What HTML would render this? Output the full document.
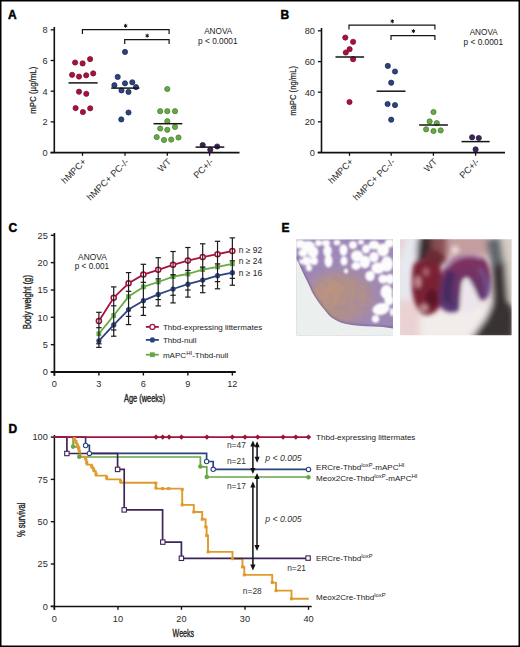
<!DOCTYPE html>
<html><head><meta charset="utf-8">
<style>
html,body{margin:0;padding:0;background:#fff;}
svg{display:block;font-family:"Liberation Sans",sans-serif;}
</style></head>
<body>
<svg width="520" height="647" viewBox="0 0 520 647">
<defs>
 <filter id="bl0" x="-20%" y="-20%" width="140%" height="140%"><feGaussianBlur stdDeviation="0.8"/></filter>
 <filter id="bl1" x="-50%" y="-50%" width="200%" height="200%"><feGaussianBlur stdDeviation="6"/></filter>
 <filter id="bl2" x="-50%" y="-50%" width="200%" height="200%"><feGaussianBlur stdDeviation="3"/></filter>
 <filter id="bl3" x="-50%" y="-50%" width="200%" height="200%"><feGaussianBlur stdDeviation="2.3"/></filter>
 <linearGradient id="lobeg" x1="0" y1="0" x2="0" y2="1"><stop offset="0" stop-color="#86325c"/><stop offset="0.5" stop-color="#6a3468"/><stop offset="1" stop-color="#553a78"/></linearGradient>
 <filter id="nz" x="0" y="0" width="100%" height="100%"><feTurbulence type="fractalNoise" baseFrequency="0.18" numOctaves="2" seed="3"/><feColorMatrix type="matrix" values="0 0 0 0 0.35  0 0 0 0 0.22  0 0 0 0 0.45  1.6 0 0 0 -0.75"/></filter>
</defs>
<rect x="0" y="0" width="520" height="647" fill="#fff"/>
<text x="8" y="19" font-size="12" font-weight="bold" fill="#000" stroke="#000" stroke-width="0.45">A</text>
<text x="280.5" y="19.3" font-size="12" font-weight="bold" fill="#000" stroke="#000" stroke-width="0.45">B</text>
<text x="8.5" y="232.4" font-size="12" font-weight="bold" fill="#000" stroke="#000" stroke-width="0.45">C</text>
<text x="8.5" y="433.4" font-size="12" font-weight="bold" fill="#000" stroke="#000" stroke-width="0.45">D</text>
<text x="281.5" y="232.4" font-size="12" font-weight="bold" fill="#000" stroke="#000" stroke-width="0.45">E</text>
<line x1="54.3" y1="27" x2="54.3" y2="152.5" stroke="#111" stroke-width="1.6"/>
<line x1="50.7" y1="29.8" x2="54.3" y2="29.8" stroke="#111" stroke-width="1.3"/>
<text x="47.7" y="33.1" font-size="9.2" text-anchor="end" fill="#2a2a2a" >8</text>
<line x1="50.7" y1="60.5" x2="54.3" y2="60.5" stroke="#111" stroke-width="1.3"/>
<text x="47.7" y="63.8" font-size="9.2" text-anchor="end" fill="#2a2a2a" >6</text>
<line x1="50.7" y1="91.2" x2="54.3" y2="91.2" stroke="#111" stroke-width="1.3"/>
<text x="47.7" y="94.5" font-size="9.2" text-anchor="end" fill="#2a2a2a" >4</text>
<line x1="50.7" y1="121.9" x2="54.3" y2="121.9" stroke="#111" stroke-width="1.3"/>
<text x="47.7" y="125.2" font-size="9.2" text-anchor="end" fill="#2a2a2a" >2</text>
<line x1="50.7" y1="152.5" x2="54.3" y2="152.5" stroke="#111" stroke-width="1.3"/>
<text x="47.7" y="155.8" font-size="9.2" text-anchor="end" fill="#2a2a2a" >0</text>
<line x1="50.5" y1="152.65" x2="239.5" y2="152.65" stroke="#111" stroke-width="1.7"/>
<line x1="82.5" y1="152.5" x2="82.5" y2="155.8" stroke="#111" stroke-width="1.3"/>
<line x1="125" y1="152.5" x2="125" y2="155.8" stroke="#111" stroke-width="1.3"/>
<line x1="167.3" y1="152.5" x2="167.3" y2="155.8" stroke="#111" stroke-width="1.3"/>
<line x1="209.6" y1="152.5" x2="209.6" y2="155.8" stroke="#111" stroke-width="1.3"/>
<text transform="translate(86.9,162.3) rotate(-45)" font-size="9.2" text-anchor="end" fill="#2a2a2a">hMPC+</text>
<text transform="translate(129.4,162.3) rotate(-45)" font-size="9.2" text-anchor="end" fill="#2a2a2a">hMPC+ PC-/-</text>
<text transform="translate(171.7,162.3) rotate(-45)" font-size="9.2" text-anchor="end" fill="#2a2a2a">WT</text>
<text transform="translate(214,162.3) rotate(-45)" font-size="9.2" text-anchor="end" fill="#2a2a2a">PC+/-</text>
<text transform="translate(35.6,90.2) rotate(-90)" x="-23.5" y="0" font-size="8.5" fill="#222" textLength="47" lengthAdjust="spacingAndGlyphs" stroke="#222" stroke-width="0.2">mPC (&#181;g/mL)</text>
<circle cx="75.1" cy="62.5" r="2.6" fill="#a6143d" stroke="#7d0a2b" stroke-width="0.75"/>
<circle cx="82.6" cy="63.4" r="2.6" fill="#a6143d" stroke="#7d0a2b" stroke-width="0.75"/>
<circle cx="90.1" cy="59.1" r="2.6" fill="#a6143d" stroke="#7d0a2b" stroke-width="0.75"/>
<circle cx="72.1" cy="74.8" r="2.6" fill="#a6143d" stroke="#7d0a2b" stroke-width="0.75"/>
<circle cx="79" cy="76.6" r="2.6" fill="#a6143d" stroke="#7d0a2b" stroke-width="0.75"/>
<circle cx="86.2" cy="75.3" r="2.6" fill="#a6143d" stroke="#7d0a2b" stroke-width="0.75"/>
<circle cx="93.2" cy="73.4" r="2.6" fill="#a6143d" stroke="#7d0a2b" stroke-width="0.75"/>
<circle cx="79" cy="91.7" r="2.6" fill="#a6143d" stroke="#7d0a2b" stroke-width="0.75"/>
<circle cx="86.3" cy="93.8" r="2.6" fill="#a6143d" stroke="#7d0a2b" stroke-width="0.75"/>
<circle cx="75.6" cy="108.1" r="2.6" fill="#a6143d" stroke="#7d0a2b" stroke-width="0.75"/>
<circle cx="82.9" cy="112" r="2.6" fill="#a6143d" stroke="#7d0a2b" stroke-width="0.75"/>
<circle cx="90.2" cy="108.3" r="2.6" fill="#a6143d" stroke="#7d0a2b" stroke-width="0.75"/>
<line x1="68.5" y1="82.9" x2="97.7" y2="82.9" stroke="#151515" stroke-width="1.5"/>
<circle cx="125" cy="51.9" r="2.6" fill="#2c437e" stroke="#1c2b58" stroke-width="0.75"/>
<circle cx="117.7" cy="76.9" r="2.6" fill="#2c437e" stroke="#1c2b58" stroke-width="0.75"/>
<circle cx="114.4" cy="85.2" r="2.6" fill="#2c437e" stroke="#1c2b58" stroke-width="0.75"/>
<circle cx="125" cy="83.3" r="2.6" fill="#2c437e" stroke="#1c2b58" stroke-width="0.75"/>
<circle cx="132.3" cy="82.3" r="2.6" fill="#2c437e" stroke="#1c2b58" stroke-width="0.75"/>
<circle cx="136" cy="87.1" r="2.6" fill="#2c437e" stroke="#1c2b58" stroke-width="0.75"/>
<circle cx="121.5" cy="90.4" r="2.6" fill="#2c437e" stroke="#1c2b58" stroke-width="0.75"/>
<circle cx="128.5" cy="91.9" r="2.6" fill="#2c437e" stroke="#1c2b58" stroke-width="0.75"/>
<circle cx="128.5" cy="112.5" r="2.6" fill="#2c437e" stroke="#1c2b58" stroke-width="0.75"/>
<circle cx="121.3" cy="119.4" r="2.6" fill="#2c437e" stroke="#1c2b58" stroke-width="0.75"/>
<line x1="111.2" y1="88.1" x2="139.4" y2="88.1" stroke="#151515" stroke-width="1.5"/>
<circle cx="167.3" cy="89" r="2.6" fill="#68a846" stroke="#437e2a" stroke-width="0.75"/>
<circle cx="160.2" cy="111.2" r="2.6" fill="#68a846" stroke="#437e2a" stroke-width="0.75"/>
<circle cx="167.3" cy="111.2" r="2.6" fill="#68a846" stroke="#437e2a" stroke-width="0.75"/>
<circle cx="175" cy="111.2" r="2.6" fill="#68a846" stroke="#437e2a" stroke-width="0.75"/>
<circle cx="167.3" cy="121.2" r="2.6" fill="#68a846" stroke="#437e2a" stroke-width="0.75"/>
<circle cx="160.2" cy="128.5" r="2.6" fill="#68a846" stroke="#437e2a" stroke-width="0.75"/>
<circle cx="167.3" cy="129.8" r="2.6" fill="#68a846" stroke="#437e2a" stroke-width="0.75"/>
<circle cx="175" cy="126.9" r="2.6" fill="#68a846" stroke="#437e2a" stroke-width="0.75"/>
<circle cx="156.7" cy="137.1" r="2.6" fill="#68a846" stroke="#437e2a" stroke-width="0.75"/>
<circle cx="164" cy="140" r="2.6" fill="#68a846" stroke="#437e2a" stroke-width="0.75"/>
<circle cx="171.2" cy="139.6" r="2.6" fill="#68a846" stroke="#437e2a" stroke-width="0.75"/>
<circle cx="178.5" cy="137.5" r="2.6" fill="#68a846" stroke="#437e2a" stroke-width="0.75"/>
<line x1="153.5" y1="123.7" x2="182.3" y2="123.7" stroke="#151515" stroke-width="1.5"/>
<circle cx="202.7" cy="145" r="2.6" fill="#3f2459" stroke="#2a1640" stroke-width="0.75"/>
<circle cx="210.3" cy="149.7" r="2.6" fill="#3f2459" stroke="#2a1640" stroke-width="0.75"/>
<circle cx="217.2" cy="146.5" r="2.6" fill="#3f2459" stroke="#2a1640" stroke-width="0.75"/>
<line x1="195.6" y1="147.1" x2="224.3" y2="147.1" stroke="#151515" stroke-width="1.5"/>
<path d="M82.4 33.9V29.6H169.1V33.9" fill="none" stroke="#151515" stroke-width="1.2"/>
<path d="M125.6 27.35L125.6 24.25M124.26 26.57L126.94 25.03M126.94 26.57L124.26 25.03" stroke="#111" stroke-width="1.0" stroke-linecap="round"/>
<circle cx="125.6" cy="25.8" r="0.8" fill="#111"/>
<path d="M124.7 43.9V39.6H169.1V43.9" fill="none" stroke="#151515" stroke-width="1.2"/>
<path d="M147.2 37.25L147.2 34.15M145.86 36.48L148.54 34.93M148.54 36.48L145.86 34.93" stroke="#111" stroke-width="1.0" stroke-linecap="round"/>
<circle cx="147.2" cy="35.7" r="0.8" fill="#111"/>
<text x="218.2" y="33.7" font-size="8.2" text-anchor="middle" fill="#222" >ANOVA</text>
<text x="217.8" y="43.7" font-size="8.3" text-anchor="middle" fill="#222" >p &lt; 0.0001</text>
<line x1="321.5" y1="28" x2="321.5" y2="152.5" stroke="#111" stroke-width="1.6"/>
<line x1="317.9" y1="30.8" x2="321.5" y2="30.8" stroke="#111" stroke-width="1.3"/>
<text x="314.9" y="34.1" font-size="9.2" text-anchor="end" fill="#2a2a2a" >80</text>
<line x1="317.9" y1="61.6" x2="321.5" y2="61.6" stroke="#111" stroke-width="1.3"/>
<text x="314.9" y="64.9" font-size="9.2" text-anchor="end" fill="#2a2a2a" >60</text>
<line x1="317.9" y1="92.2" x2="321.5" y2="92.2" stroke="#111" stroke-width="1.3"/>
<text x="314.9" y="95.5" font-size="9.2" text-anchor="end" fill="#2a2a2a" >40</text>
<line x1="317.9" y1="121.8" x2="321.5" y2="121.8" stroke="#111" stroke-width="1.3"/>
<text x="314.9" y="125.1" font-size="9.2" text-anchor="end" fill="#2a2a2a" >20</text>
<line x1="317.9" y1="152.4" x2="321.5" y2="152.4" stroke="#111" stroke-width="1.3"/>
<text x="314.9" y="155.7" font-size="9.2" text-anchor="end" fill="#2a2a2a" >0</text>
<line x1="317.7" y1="152.65" x2="505" y2="152.65" stroke="#111" stroke-width="1.7"/>
<line x1="349.5" y1="152.5" x2="349.5" y2="155.8" stroke="#111" stroke-width="1.3"/>
<line x1="391.2" y1="152.5" x2="391.2" y2="155.8" stroke="#111" stroke-width="1.3"/>
<line x1="433.4" y1="152.5" x2="433.4" y2="155.8" stroke="#111" stroke-width="1.3"/>
<line x1="475.6" y1="152.5" x2="475.6" y2="155.8" stroke="#111" stroke-width="1.3"/>
<text transform="translate(353.9,162.3) rotate(-45)" font-size="9.2" text-anchor="end" fill="#2a2a2a">hMPC+</text>
<text transform="translate(395.6,162.3) rotate(-45)" font-size="9.2" text-anchor="end" fill="#2a2a2a">hMPC+ PC-/-</text>
<text transform="translate(437.8,162.3) rotate(-45)" font-size="9.2" text-anchor="end" fill="#2a2a2a">WT</text>
<text transform="translate(480,162.3) rotate(-45)" font-size="9.2" text-anchor="end" fill="#2a2a2a">PC+/-</text>
<text transform="translate(296.3,90.9) rotate(-90)" x="-24.85" y="0" font-size="8.5" fill="#222" textLength="49.7" lengthAdjust="spacingAndGlyphs" stroke="#222" stroke-width="0.2">maPC (ng/mL)</text>
<circle cx="345.3" cy="37.6" r="2.6" fill="#a6143d" stroke="#7d0a2b" stroke-width="0.75"/>
<circle cx="353.1" cy="41.8" r="2.6" fill="#a6143d" stroke="#7d0a2b" stroke-width="0.75"/>
<circle cx="349.6" cy="49.2" r="2.6" fill="#a6143d" stroke="#7d0a2b" stroke-width="0.75"/>
<circle cx="345.8" cy="52.5" r="2.6" fill="#a6143d" stroke="#7d0a2b" stroke-width="0.75"/>
<circle cx="353.1" cy="59.2" r="2.6" fill="#a6143d" stroke="#7d0a2b" stroke-width="0.75"/>
<circle cx="349.5" cy="102" r="2.6" fill="#a6143d" stroke="#7d0a2b" stroke-width="0.75"/>
<line x1="335.5" y1="57" x2="364.1" y2="57" stroke="#151515" stroke-width="1.5"/>
<circle cx="387.8" cy="65.9" r="2.6" fill="#2c437e" stroke="#1c2b58" stroke-width="0.75"/>
<circle cx="395" cy="71.5" r="2.6" fill="#2c437e" stroke="#1c2b58" stroke-width="0.75"/>
<circle cx="391.2" cy="82.7" r="2.6" fill="#2c437e" stroke="#1c2b58" stroke-width="0.75"/>
<circle cx="387.6" cy="104" r="2.6" fill="#2c437e" stroke="#1c2b58" stroke-width="0.75"/>
<circle cx="395" cy="105.1" r="2.6" fill="#2c437e" stroke="#1c2b58" stroke-width="0.75"/>
<circle cx="391.2" cy="119.7" r="2.6" fill="#2c437e" stroke="#1c2b58" stroke-width="0.75"/>
<line x1="376.6" y1="91.2" x2="405.5" y2="91.2" stroke="#151515" stroke-width="1.5"/>
<circle cx="433.5" cy="112" r="2.6" fill="#68a846" stroke="#437e2a" stroke-width="0.75"/>
<circle cx="429.6" cy="121.4" r="2.6" fill="#68a846" stroke="#437e2a" stroke-width="0.75"/>
<circle cx="436.8" cy="123.1" r="2.6" fill="#68a846" stroke="#437e2a" stroke-width="0.75"/>
<circle cx="426.1" cy="129.3" r="2.6" fill="#68a846" stroke="#437e2a" stroke-width="0.75"/>
<circle cx="433.5" cy="131" r="2.6" fill="#68a846" stroke="#437e2a" stroke-width="0.75"/>
<circle cx="440.7" cy="130.4" r="2.6" fill="#68a846" stroke="#437e2a" stroke-width="0.75"/>
<line x1="419.1" y1="125" x2="447.9" y2="125" stroke="#151515" stroke-width="1.5"/>
<circle cx="472.1" cy="137.3" r="2.6" fill="#3f2459" stroke="#2a1640" stroke-width="0.75"/>
<circle cx="478.8" cy="138" r="2.6" fill="#3f2459" stroke="#2a1640" stroke-width="0.75"/>
<circle cx="475.6" cy="149.4" r="2.6" fill="#3f2459" stroke="#2a1640" stroke-width="0.75"/>
<line x1="461.5" y1="141.6" x2="489.7" y2="141.6" stroke="#151515" stroke-width="1.5"/>
<path d="M349 29.4V25.1H434.9V29.4" fill="none" stroke="#151515" stroke-width="1.2"/>
<path d="M392.3 22.85L392.3 19.75M390.96 22.07L393.64 20.53M393.64 22.07L390.96 20.53" stroke="#111" stroke-width="1.0" stroke-linecap="round"/>
<circle cx="392.3" cy="21.3" r="0.8" fill="#111"/>
<path d="M391 39.9V35.6H434.9V39.9" fill="none" stroke="#151515" stroke-width="1.2"/>
<path d="M413.4 32.65L413.4 29.55M412.06 31.88L414.74 30.33M414.74 31.88L412.06 30.33" stroke="#111" stroke-width="1.0" stroke-linecap="round"/>
<circle cx="413.4" cy="31.1" r="0.8" fill="#111"/>
<text x="483.7" y="35.4" font-size="8.2" text-anchor="middle" fill="#222" >ANOVA</text>
<text x="483.3" y="45.4" font-size="8.3" text-anchor="middle" fill="#222" >p &lt; 0.0001</text>
<line x1="54.4" y1="233" x2="54.4" y2="375.7" stroke="#111" stroke-width="1.7"/>
<line x1="50.8" y1="235.3" x2="54.4" y2="235.3" stroke="#111" stroke-width="1.4"/>
<text x="47.8" y="238.6" font-size="9.2" text-anchor="end" fill="#2a2a2a" >25</text>
<line x1="50.8" y1="262.64" x2="54.4" y2="262.64" stroke="#111" stroke-width="1.4"/>
<text x="47.8" y="265.94" font-size="9.2" text-anchor="end" fill="#2a2a2a" >20</text>
<line x1="50.8" y1="289.98" x2="54.4" y2="289.98" stroke="#111" stroke-width="1.4"/>
<text x="47.8" y="293.28" font-size="9.2" text-anchor="end" fill="#2a2a2a" >15</text>
<line x1="50.8" y1="317.32" x2="54.4" y2="317.32" stroke="#111" stroke-width="1.4"/>
<text x="47.8" y="320.62" font-size="9.2" text-anchor="end" fill="#2a2a2a" >10</text>
<line x1="50.8" y1="344.66" x2="54.4" y2="344.66" stroke="#111" stroke-width="1.4"/>
<text x="47.8" y="347.96" font-size="9.2" text-anchor="end" fill="#2a2a2a" >5</text>
<line x1="50.8" y1="372" x2="54.4" y2="372" stroke="#111" stroke-width="1.4"/>
<text x="47.8" y="375.3" font-size="9.2" text-anchor="end" fill="#2a2a2a" >0</text>
<line x1="50.8" y1="371.95" x2="235.8" y2="371.95" stroke="#111" stroke-width="1.9"/>
<line x1="54.4" y1="372" x2="54.4" y2="375.5" stroke="#111" stroke-width="1.4"/>
<text x="54.4" y="387.2" font-size="9.2" text-anchor="middle" fill="#2a2a2a" >0</text>
<line x1="98.89" y1="372" x2="98.89" y2="375.5" stroke="#111" stroke-width="1.4"/>
<text x="98.89" y="387.2" font-size="9.2" text-anchor="middle" fill="#2a2a2a" >3</text>
<line x1="143.38" y1="372" x2="143.38" y2="375.5" stroke="#111" stroke-width="1.4"/>
<text x="143.38" y="387.2" font-size="9.2" text-anchor="middle" fill="#2a2a2a" >6</text>
<line x1="187.87" y1="372" x2="187.87" y2="375.5" stroke="#111" stroke-width="1.4"/>
<text x="187.87" y="387.2" font-size="9.2" text-anchor="middle" fill="#2a2a2a" >9</text>
<line x1="232.36" y1="372" x2="232.36" y2="375.5" stroke="#111" stroke-width="1.4"/>
<text x="232.36" y="387.2" font-size="9.2" text-anchor="middle" fill="#2a2a2a" >12</text>
<text x="124" y="401.5" font-size="10" text-anchor="start" fill="#222" stroke="#222" stroke-width="0.35" textLength="41.2" lengthAdjust="spacingAndGlyphs">Age (weeks)</text>
<text transform="translate(30.9,302.1) rotate(-90)" x="-27.1" y="0" font-size="10" fill="#222" textLength="54.2" lengthAdjust="spacingAndGlyphs" stroke="#222" stroke-width="0.35">Body weight (g)</text>
<text x="92.4" y="259.6" font-size="8.4" text-anchor="middle" fill="#222" >ANOVA</text>
<text x="91.95" y="269.4" font-size="8.2" text-anchor="middle" fill="#222" >p &lt; 0.001</text>
<polyline points="98.89,340.8 113.72,324.9 128.55,309.6 143.38,300.7 158.21,294.4 173.04,289 187.87,284.2 202.7,280.1 217.53,275.7 232.36,272.7" fill="none" stroke="#2c437e" stroke-width="1.8" stroke-linejoin="round"/>
<polyline points="98.89,333.8 113.72,315.5 128.55,296.6 143.38,286.9 158.21,282 173.04,276.6 187.87,274 202.7,269.6 217.53,266.9 232.36,263.8" fill="none" stroke="#68a846" stroke-width="1.8" stroke-linejoin="round"/>
<polyline points="98.89,321.1 113.72,297.7 128.55,283.3 143.38,274.6 158.21,269.8 173.04,264.8 187.87,260.6 202.7,257.1 217.53,254.2 232.36,251" fill="none" stroke="#a6143d" stroke-width="1.8" stroke-linejoin="round"/>
<circle cx="98.89" cy="340.8" r="2.6" fill="#2c437e"/>
<circle cx="113.72" cy="324.9" r="2.6" fill="#2c437e"/>
<circle cx="128.55" cy="309.6" r="2.6" fill="#2c437e"/>
<circle cx="143.38" cy="300.7" r="2.6" fill="#2c437e"/>
<circle cx="158.21" cy="294.4" r="2.6" fill="#2c437e"/>
<circle cx="173.04" cy="289" r="2.6" fill="#2c437e"/>
<circle cx="187.87" cy="284.2" r="2.6" fill="#2c437e"/>
<circle cx="202.7" cy="280.1" r="2.6" fill="#2c437e"/>
<circle cx="217.53" cy="275.7" r="2.6" fill="#2c437e"/>
<circle cx="232.36" cy="272.7" r="2.6" fill="#2c437e"/>
<rect x="96.49" y="331.4" width="4.8" height="4.8" fill="#68a846"/>
<rect x="111.32" y="313.1" width="4.8" height="4.8" fill="#68a846"/>
<rect x="126.15" y="294.2" width="4.8" height="4.8" fill="#68a846"/>
<rect x="140.98" y="284.5" width="4.8" height="4.8" fill="#68a846"/>
<rect x="155.81" y="279.6" width="4.8" height="4.8" fill="#68a846"/>
<rect x="170.64" y="274.2" width="4.8" height="4.8" fill="#68a846"/>
<rect x="185.47" y="271.6" width="4.8" height="4.8" fill="#68a846"/>
<rect x="200.3" y="267.2" width="4.8" height="4.8" fill="#68a846"/>
<rect x="215.13" y="264.5" width="4.8" height="4.8" fill="#68a846"/>
<rect x="229.96" y="261.4" width="4.8" height="4.8" fill="#68a846"/>
<circle cx="98.89" cy="321.1" r="2.55" fill="#fff" stroke="#a01038" stroke-width="1.5"/>
<circle cx="113.72" cy="297.7" r="2.55" fill="#fff" stroke="#a01038" stroke-width="1.5"/>
<circle cx="128.55" cy="283.3" r="2.55" fill="#fff" stroke="#a01038" stroke-width="1.5"/>
<circle cx="143.38" cy="274.6" r="2.55" fill="#fff" stroke="#a01038" stroke-width="1.5"/>
<circle cx="158.21" cy="269.8" r="2.55" fill="#fff" stroke="#a01038" stroke-width="1.5"/>
<circle cx="173.04" cy="264.8" r="2.55" fill="#fff" stroke="#a01038" stroke-width="1.5"/>
<circle cx="187.87" cy="260.6" r="2.55" fill="#fff" stroke="#a01038" stroke-width="1.5"/>
<circle cx="202.7" cy="257.1" r="2.55" fill="#fff" stroke="#a01038" stroke-width="1.5"/>
<circle cx="217.53" cy="254.2" r="2.55" fill="#fff" stroke="#a01038" stroke-width="1.5"/>
<circle cx="232.36" cy="251" r="2.55" fill="#fff" stroke="#a01038" stroke-width="1.5"/>
<line x1="98.89" y1="312.3" x2="98.89" y2="347.4" stroke="#1a1a1a" stroke-width="1.2"/>
<line x1="96.19" y1="312.3" x2="101.59" y2="312.3" stroke="#1a1a1a" stroke-width="1.2"/>
<line x1="96.19" y1="347.4" x2="101.59" y2="347.4" stroke="#1a1a1a" stroke-width="1.2"/>
<line x1="96.19" y1="327.7" x2="101.59" y2="327.7" stroke="#1a1a1a" stroke-width="1.2"/>
<line x1="96.19" y1="343.77" x2="101.59" y2="343.77" stroke="#1a1a1a" stroke-width="1.2"/>
<line x1="113.72" y1="286.9" x2="113.72" y2="336.2" stroke="#1a1a1a" stroke-width="1.2"/>
<line x1="111.02" y1="286.9" x2="116.42" y2="286.9" stroke="#1a1a1a" stroke-width="1.2"/>
<line x1="111.02" y1="336.2" x2="116.42" y2="336.2" stroke="#1a1a1a" stroke-width="1.2"/>
<line x1="111.02" y1="305.8" x2="116.42" y2="305.8" stroke="#1a1a1a" stroke-width="1.2"/>
<line x1="111.02" y1="329.98" x2="116.42" y2="329.98" stroke="#1a1a1a" stroke-width="1.2"/>
<line x1="128.55" y1="272.6" x2="128.55" y2="324.6" stroke="#1a1a1a" stroke-width="1.2"/>
<line x1="125.85" y1="272.6" x2="131.25" y2="272.6" stroke="#1a1a1a" stroke-width="1.2"/>
<line x1="125.85" y1="324.6" x2="131.25" y2="324.6" stroke="#1a1a1a" stroke-width="1.2"/>
<line x1="125.85" y1="291.32" x2="131.25" y2="291.32" stroke="#1a1a1a" stroke-width="1.2"/>
<line x1="125.85" y1="316.35" x2="131.25" y2="316.35" stroke="#1a1a1a" stroke-width="1.2"/>
<line x1="143.38" y1="264.3" x2="143.38" y2="315.4" stroke="#1a1a1a" stroke-width="1.2"/>
<line x1="140.68" y1="264.3" x2="146.08" y2="264.3" stroke="#1a1a1a" stroke-width="1.2"/>
<line x1="140.68" y1="315.4" x2="146.08" y2="315.4" stroke="#1a1a1a" stroke-width="1.2"/>
<line x1="140.68" y1="282.33" x2="146.08" y2="282.33" stroke="#1a1a1a" stroke-width="1.2"/>
<line x1="140.68" y1="307.31" x2="146.08" y2="307.31" stroke="#1a1a1a" stroke-width="1.2"/>
<line x1="158.21" y1="257.7" x2="158.21" y2="305.9" stroke="#1a1a1a" stroke-width="1.2"/>
<line x1="155.51" y1="257.7" x2="160.91" y2="257.7" stroke="#1a1a1a" stroke-width="1.2"/>
<line x1="155.51" y1="305.9" x2="160.91" y2="305.9" stroke="#1a1a1a" stroke-width="1.2"/>
<line x1="155.51" y1="278.88" x2="160.91" y2="278.88" stroke="#1a1a1a" stroke-width="1.2"/>
<line x1="155.51" y1="299.57" x2="160.91" y2="299.57" stroke="#1a1a1a" stroke-width="1.2"/>
<line x1="173.04" y1="251.5" x2="173.04" y2="302.9" stroke="#1a1a1a" stroke-width="1.2"/>
<line x1="170.34" y1="251.5" x2="175.74" y2="251.5" stroke="#1a1a1a" stroke-width="1.2"/>
<line x1="170.34" y1="302.9" x2="175.74" y2="302.9" stroke="#1a1a1a" stroke-width="1.2"/>
<line x1="170.34" y1="274.78" x2="175.74" y2="274.78" stroke="#1a1a1a" stroke-width="1.2"/>
<line x1="170.34" y1="295.25" x2="175.74" y2="295.25" stroke="#1a1a1a" stroke-width="1.2"/>
<line x1="187.87" y1="247.5" x2="187.87" y2="297.1" stroke="#1a1a1a" stroke-width="1.2"/>
<line x1="185.17" y1="247.5" x2="190.57" y2="247.5" stroke="#1a1a1a" stroke-width="1.2"/>
<line x1="185.17" y1="297.1" x2="190.57" y2="297.1" stroke="#1a1a1a" stroke-width="1.2"/>
<line x1="185.17" y1="270.43" x2="190.57" y2="270.43" stroke="#1a1a1a" stroke-width="1.2"/>
<line x1="185.17" y1="290" x2="190.57" y2="290" stroke="#1a1a1a" stroke-width="1.2"/>
<line x1="202.7" y1="243.8" x2="202.7" y2="292.7" stroke="#1a1a1a" stroke-width="1.2"/>
<line x1="200" y1="243.8" x2="205.4" y2="243.8" stroke="#1a1a1a" stroke-width="1.2"/>
<line x1="200" y1="292.7" x2="205.4" y2="292.7" stroke="#1a1a1a" stroke-width="1.2"/>
<line x1="200" y1="267.08" x2="205.4" y2="267.08" stroke="#1a1a1a" stroke-width="1.2"/>
<line x1="200" y1="285.77" x2="205.4" y2="285.77" stroke="#1a1a1a" stroke-width="1.2"/>
<line x1="217.53" y1="241.3" x2="217.53" y2="288.8" stroke="#1a1a1a" stroke-width="1.2"/>
<line x1="214.83" y1="241.3" x2="220.23" y2="241.3" stroke="#1a1a1a" stroke-width="1.2"/>
<line x1="214.83" y1="288.8" x2="220.23" y2="288.8" stroke="#1a1a1a" stroke-width="1.2"/>
<line x1="214.83" y1="263.88" x2="220.23" y2="263.88" stroke="#1a1a1a" stroke-width="1.2"/>
<line x1="214.83" y1="281.6" x2="220.23" y2="281.6" stroke="#1a1a1a" stroke-width="1.2"/>
<line x1="232.36" y1="237.9" x2="232.36" y2="285.2" stroke="#1a1a1a" stroke-width="1.2"/>
<line x1="229.66" y1="237.9" x2="235.06" y2="237.9" stroke="#1a1a1a" stroke-width="1.2"/>
<line x1="229.66" y1="285.2" x2="235.06" y2="285.2" stroke="#1a1a1a" stroke-width="1.2"/>
<line x1="229.66" y1="260.82" x2="235.06" y2="260.82" stroke="#1a1a1a" stroke-width="1.2"/>
<line x1="229.66" y1="278.32" x2="235.06" y2="278.32" stroke="#1a1a1a" stroke-width="1.2"/>
<text x="238.8" y="253.1" font-size="8.45" text-anchor="start" fill="#222" >n &#8805; 92</text>
<text x="238.8" y="264.3" font-size="8.45" text-anchor="start" fill="#222" >n &#8805; 24</text>
<text x="238.8" y="275.7" font-size="8.45" text-anchor="start" fill="#222" >n &#8805; 16</text>
<line x1="145.9" y1="326.9" x2="158.8" y2="326.9" stroke="#a6143d" stroke-width="1.8"/>
<circle cx="152.4" cy="326.9" r="2.5" fill="#fff" stroke="#a6143d" stroke-width="1.3"/>
<text x="162.9" y="329.9" font-size="8.05" text-anchor="start" fill="#222" >Thbd-expressing littermates</text>
<line x1="145.9" y1="339.9" x2="158.8" y2="339.9" stroke="#2c437e" stroke-width="1.8"/>
<circle cx="152.4" cy="339.9" r="2.6" fill="#2c437e"/>
<text x="162.9" y="342.9" font-size="8.05" text-anchor="start" fill="#222" >Thbd-null</text>
<line x1="145.9" y1="354.7" x2="158.8" y2="354.7" stroke="#68a846" stroke-width="1.8"/>
<rect x="150" y="352.3" width="4.8" height="4.8" fill="#68a846"/>
<text x="162.9" y="357.7" font-size="8.05" text-anchor="start" fill="#222" >mAPC<tspan font-size="6" dy="-3.2">HI</tspan><tspan dy="3.2">-Thbd-null</tspan></text>
<line x1="54.4" y1="435" x2="54.4" y2="609.8" stroke="#111" stroke-width="1.5"/>
<line x1="50.8" y1="437.1" x2="54.4" y2="437.1" stroke="#111" stroke-width="1.4"/>
<text x="47.8" y="440.4" font-size="9.2" text-anchor="end" fill="#2a2a2a" >100</text>
<line x1="50.8" y1="479.4" x2="54.4" y2="479.4" stroke="#111" stroke-width="1.4"/>
<text x="47.8" y="482.7" font-size="9.2" text-anchor="end" fill="#2a2a2a" >75</text>
<line x1="50.8" y1="521.7" x2="54.4" y2="521.7" stroke="#111" stroke-width="1.4"/>
<text x="47.8" y="525" font-size="9.2" text-anchor="end" fill="#2a2a2a" >50</text>
<line x1="50.8" y1="564" x2="54.4" y2="564" stroke="#111" stroke-width="1.4"/>
<text x="47.8" y="567.3" font-size="9.2" text-anchor="end" fill="#2a2a2a" >25</text>
<line x1="50.8" y1="606.3" x2="54.4" y2="606.3" stroke="#111" stroke-width="1.4"/>
<text x="47.8" y="609.6" font-size="9.2" text-anchor="end" fill="#2a2a2a" >0</text>
<line x1="50.8" y1="606.45" x2="311.7" y2="606.45" stroke="#111" stroke-width="1.5"/>
<line x1="54.4" y1="606.3" x2="54.4" y2="609.8" stroke="#111" stroke-width="1.4"/>
<text x="54.4" y="621.5" font-size="9.2" text-anchor="middle" fill="#2a2a2a" >0</text>
<line x1="117.93" y1="606.3" x2="117.93" y2="609.8" stroke="#111" stroke-width="1.4"/>
<text x="117.93" y="621.5" font-size="9.2" text-anchor="middle" fill="#2a2a2a" >10</text>
<line x1="181.46" y1="606.3" x2="181.46" y2="609.8" stroke="#111" stroke-width="1.4"/>
<text x="181.46" y="621.5" font-size="9.2" text-anchor="middle" fill="#2a2a2a" >20</text>
<line x1="244.99" y1="606.3" x2="244.99" y2="609.8" stroke="#111" stroke-width="1.4"/>
<text x="244.99" y="621.5" font-size="9.2" text-anchor="middle" fill="#2a2a2a" >30</text>
<line x1="308.52" y1="606.3" x2="308.52" y2="609.8" stroke="#111" stroke-width="1.4"/>
<text x="308.52" y="621.5" font-size="9.2" text-anchor="middle" fill="#2a2a2a" >40</text>
<text x="172.6" y="636.5" font-size="10" text-anchor="start" fill="#222" stroke="#222" stroke-width="0.35" textLength="21.5" lengthAdjust="spacingAndGlyphs">Weeks</text>
<text transform="translate(24.7,519.9) rotate(-90)" x="-17.2" y="0" font-size="10" fill="#222" textLength="34.4" lengthAdjust="spacingAndGlyphs" stroke="#222" stroke-width="0.35">% survival</text>
<path d="M54.4 437.1 L73.1 437.1 L73.1 447 L79.3 447 L79.3 457 L200.4 457 L200.4 466.8 L206.8 466.8 L206.8 477 L308.4 477" fill="none" stroke="#68a846" stroke-width="1.7" stroke-linejoin="miter"/>
<path d="M54.4 437.1 L85.6 437.1 L85.6 445.3 L89.4 445.3 L89.4 453.3 L206.6 453.3 L206.6 461.5 L213.2 461.5 L213.2 469.4 L308.4 469.4" fill="none" stroke="#2c437e" stroke-width="1.7" stroke-linejoin="miter"/>
<path d="M54.4 437.1 L73.8 437.1 L73.8 440.2 L75.4 440.2 L75.4 443.3 L76.9 443.3 L76.9 446.5 L78.4 446.5 L78.4 449.8 L79.2 449.8 L79.2 453.2 L79.8 453.2 L79.8 456.8 L85.3 456.8 L85.3 459.8 L86.6 459.8 L86.6 464.6 L91.6 464.6 L91.6 467.8 L93.6 467.8 L93.6 471.3 L95.8 471.3 L95.8 475.6 L106.6 475.6 L106.6 479.4 L120.6 479.4 L120.6 482.8 L155.9 482.8 L155.9 488.6 L182.2 488.6 L182.2 504.9 L193.8 504.9 L193.8 512 L202.2 512 L202.2 519.2 L205.6 519.2 L205.6 527 L206.6 527 L206.6 535.6 L208 535.6 L208 551.9 L232.5 551.9 L232.5 558.7 L242.5 558.7 L242.5 566.9 L244.3 566.9 L244.3 574.9 L272.2 574.9 L272.2 582.6 L276 582.6 L276 590.6 L291.5 590.6 L291.5 598.8 L308.8 598.8" fill="none" stroke="#e09a2c" stroke-width="1.9" stroke-linejoin="miter"/>
<path d="M54.4 437.1 L66.9 437.1 L66.9 453.5 L117.6 453.5 L117.6 469.4 L124.2 469.4 L124.2 509.9 L162.6 509.9 L162.6 542.1 L181.4 542.1 L181.4 558.3 L308.1 558.3" fill="none" stroke="#3f2459" stroke-width="1.7" stroke-linejoin="miter"/>
<line x1="54.4" y1="437.1" x2="308.3" y2="437.1" stroke="#a6143d" stroke-width="1.6"/>
<rect x="72.8" y="437.1" width="3" height="3" fill="#e09a2c"/>
<rect x="74.5" y="440" width="3" height="3" fill="#e09a2c"/>
<rect x="75.9" y="443.4" width="3" height="3" fill="#e09a2c"/>
<rect x="77.1" y="446.7" width="3" height="3" fill="#e09a2c"/>
<rect x="77.9" y="450" width="3" height="3" fill="#e09a2c"/>
<rect x="78.5" y="453.5" width="3" height="3" fill="#e09a2c"/>
<rect x="83.9" y="456.3" width="3" height="3" fill="#e09a2c"/>
<rect x="85.3" y="461" width="3" height="3" fill="#e09a2c"/>
<rect x="90.3" y="464.8" width="3" height="3" fill="#e09a2c"/>
<rect x="92.3" y="468.3" width="3" height="3" fill="#e09a2c"/>
<rect x="94.5" y="472.5" width="3" height="3" fill="#e09a2c"/>
<rect x="105.2" y="476.1" width="3" height="3" fill="#e09a2c"/>
<rect x="119.2" y="479.9" width="3" height="3" fill="#e09a2c"/>
<rect x="154.4" y="481.7" width="3" height="3" fill="#e09a2c"/>
<rect x="154.4" y="486.3" width="3" height="3" fill="#e09a2c"/>
<rect x="161" y="487.1" width="3" height="3" fill="#e09a2c"/>
<rect x="167.2" y="487.1" width="3" height="3" fill="#e09a2c"/>
<rect x="180.7" y="488" width="3" height="3" fill="#e09a2c"/>
<rect x="180.7" y="503.4" width="3" height="3" fill="#e09a2c"/>
<rect x="192.3" y="510.5" width="3" height="3" fill="#e09a2c"/>
<rect x="200.7" y="517.7" width="3" height="3" fill="#e09a2c"/>
<rect x="204.3" y="525.4" width="3" height="3" fill="#e09a2c"/>
<rect x="205.3" y="534.1" width="3" height="3" fill="#e09a2c"/>
<rect x="206.6" y="550.4" width="3" height="3" fill="#e09a2c"/>
<rect x="231" y="557.2" width="3" height="3" fill="#e09a2c"/>
<rect x="241" y="565.4" width="3" height="3" fill="#e09a2c"/>
<rect x="242.8" y="573.4" width="3" height="3" fill="#e09a2c"/>
<rect x="270.7" y="580.9" width="3" height="3" fill="#e09a2c"/>
<rect x="274.5" y="589.1" width="3" height="3" fill="#e09a2c"/>
<rect x="290" y="597.3" width="3" height="3" fill="#e09a2c"/>
<rect x="64.7" y="451.3" width="4.4" height="4.4" fill="#fff" stroke="#3f2459" stroke-width="1.1"/>
<rect x="115.4" y="467.2" width="4.4" height="4.4" fill="#fff" stroke="#3f2459" stroke-width="1.1"/>
<rect x="122" y="507.7" width="4.4" height="4.4" fill="#fff" stroke="#3f2459" stroke-width="1.1"/>
<rect x="160.6" y="539.9" width="4.4" height="4.4" fill="#fff" stroke="#3f2459" stroke-width="1.1"/>
<rect x="179.2" y="556.1" width="4.4" height="4.4" fill="#fff" stroke="#3f2459" stroke-width="1.1"/>
<rect x="305.9" y="555.9" width="4.4" height="4.4" fill="#fff" stroke="#3f2459" stroke-width="1.1"/>
<circle cx="85.6" cy="445.5" r="2.2" fill="#fff" stroke="#2c437e" stroke-width="1.1"/>
<circle cx="89.4" cy="453.4" r="2.2" fill="#fff" stroke="#2c437e" stroke-width="1.1"/>
<circle cx="206.6" cy="461.5" r="2.2" fill="#fff" stroke="#2c437e" stroke-width="1.1"/>
<circle cx="213.2" cy="469.3" r="2.2" fill="#fff" stroke="#2c437e" stroke-width="1.1"/>
<circle cx="308.5" cy="469.4" r="2.2" fill="#fff" stroke="#2c437e" stroke-width="1.1"/>
<circle cx="73.1" cy="446.6" r="2.3" fill="#68a846"/>
<circle cx="79.3" cy="456.8" r="2.3" fill="#68a846"/>
<circle cx="200.4" cy="466.5" r="2.3" fill="#68a846"/>
<circle cx="206.8" cy="477" r="2.3" fill="#68a846"/>
<circle cx="308.4" cy="477.2" r="2.3" fill="#68a846"/>
<path d="M156.05 434.4l2.7 2.7l-2.7 2.7l-2.7 -2.7z" fill="#9a1436"/>
<path d="M162.72 434.4l2.7 2.7l-2.7 2.7l-2.7 -2.7z" fill="#9a1436"/>
<path d="M169.07 434.4l2.7 2.7l-2.7 2.7l-2.7 -2.7z" fill="#9a1436"/>
<path d="M181.46 434.4l2.7 2.7l-2.7 2.7l-2.7 -2.7z" fill="#9a1436"/>
<path d="M206.87 434.4l2.7 2.7l-2.7 2.7l-2.7 -2.7z" fill="#9a1436"/>
<path d="M232.28 434.4l2.7 2.7l-2.7 2.7l-2.7 -2.7z" fill="#9a1436"/>
<path d="M244.99 434.4l2.7 2.7l-2.7 2.7l-2.7 -2.7z" fill="#9a1436"/>
<path d="M257.7 434.4l2.7 2.7l-2.7 2.7l-2.7 -2.7z" fill="#9a1436"/>
<path d="M283.11 434.4l2.7 2.7l-2.7 2.7l-2.7 -2.7z" fill="#9a1436"/>
<path d="M295.81 434.4l2.7 2.7l-2.7 2.7l-2.7 -2.7z" fill="#9a1436"/>
<path d="M308.52 434.4l2.7 2.7l-2.7 2.7l-2.7 -2.7z" fill="#9a1436"/>
<line x1="252.9" y1="445.6" x2="252.9" y2="469" stroke="#111" stroke-width="1.5"/>
<path d="M252.9 440.6l2.6 6h-5.2z" fill="#111"/>
<path d="M252.9 474l2.6 -6h-5.2z" fill="#111"/>
<line x1="257.1" y1="446.3" x2="257.1" y2="457.8" stroke="#111" stroke-width="1.5"/>
<path d="M257.1 441.3l2.6 6h-5.2z" fill="#111"/>
<path d="M257.1 462.8l2.6 -6h-5.2z" fill="#111"/>
<line x1="257" y1="478" x2="257" y2="546" stroke="#111" stroke-width="1.5"/>
<path d="M257 473l2.6 6h-5.2z" fill="#111"/>
<path d="M257 551l2.6 -6h-5.2z" fill="#111"/>
<line x1="252.9" y1="486.6" x2="252.9" y2="565.5" stroke="#111" stroke-width="1.5"/>
<path d="M252.9 481.6l2.6 6h-5.2z" fill="#111"/>
<path d="M252.9 570.5l2.6 -6h-5.2z" fill="#111"/>
<text x="236.4" y="448.3" font-size="8.4" text-anchor="middle" fill="#333" >n=47</text>
<text x="236.4" y="464.2" font-size="8.4" text-anchor="middle" fill="#333" >n=21</text>
<text x="236.4" y="489.3" font-size="8.4" text-anchor="middle" fill="#333" >n=17</text>
<text x="252.3" y="594.3" font-size="8.4" text-anchor="middle" fill="#333" >n=28</text>
<text x="296.6" y="570.5" font-size="8.4" text-anchor="middle" fill="#333" >n=21</text>
<text x="283.4" y="461.4" font-size="8.7" text-anchor="middle" fill="#333" font-style="italic">p &lt; 0.005</text>
<text x="283.4" y="522" font-size="8.7" text-anchor="middle" fill="#333" font-style="italic">p &lt; 0.005</text>
<text x="316.1" y="439.6" font-size="8.05" text-anchor="start" fill="#222" >Thbd-expressing littermates</text>
<text x="316.1" y="469.8" font-size="8.05" text-anchor="start" fill="#222" >ERCre-Thbd<tspan font-size="5.8" dy="-3.2">loxP</tspan><tspan dy="3.2">-mAPC</tspan><tspan font-size="6" dy="-3.2">HI</tspan></text>
<text x="316.1" y="480.7" font-size="8.05" text-anchor="start" fill="#222" >Meox2Cre-Thbd<tspan font-size="5.8" dy="-3.2">loxP</tspan><tspan dy="3.2">-mAPC</tspan><tspan font-size="6" dy="-3.2">HI</tspan></text>
<text x="316.1" y="560.7" font-size="8.05" text-anchor="start" fill="#222" >ERCre-Thbd<tspan font-size="5.8" dy="-3.2">loxP</tspan></text>
<text x="316.1" y="599.7" font-size="8.05" text-anchor="start" fill="#222" >Meox2Cre-Thbd<tspan font-size="5.8" dy="-3.2">loxP</tspan></text>

<g>
 <clipPath id="ch"><rect x="296.3" y="239.3" width="96.7" height="96.3"/></clipPath>
 <g clip-path="url(#ch)">
  <rect x="296.3" y="239.3" width="96.7" height="96.3" fill="#9d88b7"/>
  <g filter="url(#bl1)">
   <ellipse cx="340" cy="298" rx="33" ry="25" fill="#b6927f" opacity="0.9"/>
   <ellipse cx="328" cy="290" rx="14" ry="12" fill="#c0977c" opacity="0.7"/>
   <ellipse cx="357" cy="306" rx="14" ry="10" fill="#ad8f98" opacity="0.7"/>
  </g>
  <rect x="296.3" y="239.3" width="96.7" height="96.3" filter="url(#nz)" opacity="0.6"/>
  <g fill="#fdfcfd" filter="url(#bl0)">
   <ellipse cx="300" cy="244" rx="5.4" ry="4.55" transform="rotate(0 300 244)"/>
   <ellipse cx="308" cy="246" rx="6.75" ry="5.2" transform="rotate(0 308 246)"/>
   <ellipse cx="313" cy="252" rx="5.4" ry="5.85" transform="rotate(0 313 252)"/>
   <ellipse cx="303" cy="253" rx="4.73" ry="3.9" transform="rotate(0 303 253)"/>
   <ellipse cx="306.5" cy="261" rx="4.73" ry="4.55" transform="rotate(0 306.5 261)"/>
   <ellipse cx="314" cy="261" rx="4.05" ry="3.9" transform="rotate(0 314 261)"/>
   <ellipse cx="300" cy="262" rx="2.43" ry="2.86" transform="rotate(0 300 262)"/>
   <ellipse cx="309" cy="268" rx="2.97" ry="3.25" transform="rotate(0 309 268)"/>
   <ellipse cx="318.5" cy="243" rx="3.38" ry="3.25" transform="rotate(0 318.5 243)"/>
   <ellipse cx="327.5" cy="251" rx="4.32" ry="5.85" transform="rotate(0 327.5 251)"/>
   <ellipse cx="328.5" cy="261" rx="4.05" ry="6.5" transform="rotate(0 328.5 261)"/>
   <ellipse cx="326" cy="243" rx="4.05" ry="3.25" transform="rotate(0 326 243)"/>
   <ellipse cx="343.5" cy="250" rx="4.05" ry="5.85" transform="rotate(0 343.5 250)"/>
   <ellipse cx="344" cy="261" rx="3.51" ry="4.55" transform="rotate(0 344 261)"/>
   <ellipse cx="337" cy="242.5" rx="3.38" ry="2.86" transform="rotate(0 337 242.5)"/>
   <ellipse cx="353" cy="245" rx="4.05" ry="3.9" transform="rotate(0 353 245)"/>
   <ellipse cx="357" cy="256" rx="6.08" ry="5.85" transform="rotate(0 357 256)"/>
   <ellipse cx="356" cy="266" rx="4.73" ry="3.9" transform="rotate(0 356 266)"/>
   <ellipse cx="365" cy="262" rx="5.4" ry="6.5" transform="rotate(0 365 262)"/>
   <ellipse cx="366" cy="249" rx="4.05" ry="4.55" transform="rotate(0 366 249)"/>
   <ellipse cx="374" cy="245" rx="5.4" ry="4.55" transform="rotate(0 374 245)"/>
   <ellipse cx="374" cy="257" rx="4.73" ry="5.2" transform="rotate(0 374 257)"/>
   <ellipse cx="383" cy="250" rx="6.08" ry="6.5" transform="rotate(0 383 250)"/>
   <ellipse cx="389.5" cy="243" rx="4.73" ry="4.55" transform="rotate(0 389.5 243)"/>
   <ellipse cx="378" cy="268" rx="6.75" ry="5.85" transform="rotate(0 378 268)"/>
   <ellipse cx="370" cy="276" rx="4.73" ry="5.2" transform="rotate(0 370 276)"/>
   <ellipse cx="387" cy="264" rx="6.08" ry="7.8" transform="rotate(0 387 264)"/>
   <ellipse cx="383" cy="279" rx="4.73" ry="4.55" transform="rotate(0 383 279)"/>
   <ellipse cx="390" cy="279" rx="4.05" ry="5.2" transform="rotate(0 390 279)"/>
   <ellipse cx="386.5" cy="292" rx="6.08" ry="7.15" transform="rotate(0 386.5 292)"/>
   <ellipse cx="389" cy="300" rx="4.73" ry="5.2" transform="rotate(0 389 300)"/>
   <ellipse cx="381" cy="309" rx="8.78" ry="5.85" transform="rotate(-15 381 309)"/>
   <ellipse cx="375.5" cy="319" rx="3.78" ry="3.64" transform="rotate(0 375.5 319)"/>
   <ellipse cx="361" cy="242" rx="2.97" ry="2.6" transform="rotate(0 361 242)"/>
   <ellipse cx="346" cy="271" rx="2.16" ry="2.6" transform="rotate(0 346 271)"/>
   <ellipse cx="392" cy="312" rx="2.03" ry="3.9" transform="rotate(0 392 312)"/>
  </g>
  <path d="M296 257 C298 262 300 266 301.7 270 C303.5 274 305 277 307 281 C309 285 310.5 288.5 312 292 C314 295.5 316 298.5 318 301.5 C320.5 305 322.5 307.5 325 310.5 C327 313 329 315.5 331.5 317.5 C335.5 320.5 340 322.5 345 323.7 C354 325.5 363 326.2 373 326.6 C380 326.9 387 327.3 394 327.8" fill="none" stroke="#7a6498" stroke-width="2" filter="url(#bl0)"/>
  <path d="M296 258 C298 262 300 266 301.7 270 C303.5 274 305 277 307 281 C309 285 310.5 288.5 312 292 C314 295.5 316 298.5 318 301.5 C320.5 305 322.5 307.5 325 310.5 C327 313 329 315.5 331.5 317.5 C335.5 320.5 340 322.5 345 323.7 C354 325.5 363 326.2 373 326.6 C380 326.9 387 327.3 394 328.8 V337 H296 Z" fill="#ebf0ee"/>
 </g>
</g>


<g>
 <clipPath id="cp"><rect x="400" y="239.3" width="111.6" height="96"/></clipPath>
 <g clip-path="url(#cp)">
  <rect x="400" y="239.3" width="111.6" height="96" fill="#e8dede"/>
  <g filter="url(#bl2)">
   <rect x="445" y="234" width="44" height="22" fill="#c49e9e"/>
   <rect x="431" y="234" width="16" height="30" fill="#8a5052"/>
   <rect x="417" y="234" width="15" height="30" fill="#3e2a32"/>
   <path d="M398 236 L409 236 L409 262 L398 262 Z" fill="#e8d0d0"/>
   <path d="M408 234 L419 234 L414 270 L412 300 L398 302 L398 264 Z" fill="#e6e9ef"/>
   <path d="M420 312 L492 304 L488 340 L420 340 Z" fill="#f2eceb"/>
   <path d="M398 300 L420 300 L420 340 L398 340 Z" fill="#ead2d2"/>
   <path d="M500 236 L514 236 L514 300 L504 300 Z" fill="#d4ccc4"/>
   <path d="M486 240 L500 236 L504 262 L492 270 Z" fill="#5e666c"/>
   <path d="M492 266 L505 262 L508 300 L514 310 L514 340 L470 340 L486 318 L494 300 Z" fill="#383232"/>
  </g>
  <g filter="url(#bl3)">
   <path d="M414 264 C420 258 432 256 438 260 C443 268 443 290 441 304 C438 312 430 317 422 314 C416 308 412 298 412 286 C412 276 412 268 414 264 Z" fill="#7a2236"/>
   <path d="M426 252 C432 248 440 250 444 258 L440 266 C434 262 428 260 424 262 Z" fill="#6a2a34"/>
   <ellipse cx="432" cy="298" rx="6" ry="9" fill="#5a1626"/>
   <ellipse cx="418" cy="282" rx="3" ry="6" fill="#c88a98"/>
   <ellipse cx="426" cy="272" rx="3" ry="4" fill="#b0606e"/>
   <ellipse cx="424" cy="308" rx="4" ry="4" fill="#c08890"/>
   <ellipse cx="455" cy="250" rx="4" ry="4" fill="#e8d8d8"/>
   <path d="M440 306 C439 292 440 276 445 266 C450 258 457 254 464 254 C472 253 479 254 483 257 C488 262 491 270 491 280 C491 288 490 294 488 296 C486 300 482 301 479 299 C477 294 475 290 472 285 C470 280 468 277 466 277 C463 278 461 282 461 288 C460 296 460 304 459 310 C454 314 444 313 440 306 Z" fill="url(#lobeg)"/>
   <path d="M443 300 C441 290 443 278 448 270 L456 274 C452 284 452 296 453 306 Z" fill="#4a2a60"/>
   <path d="M446 268 C452 258 466 252 482 258" fill="none" stroke="#c0a0c8" stroke-width="2"/>
   <path d="M479 268 C485 276 488 286 486 294" fill="none" stroke="#7a64a8" stroke-width="2"/>
   <path d="M462 290 C463 282 466 278 469 280 C473 285 476 292 478 300 C476 308 470 314 464 314 C461 308 461 298 462 290 Z" fill="#ece5ec"/>
  </g>
 </g>
</g>

<rect x="0.75" y="0.75" width="518.5" height="645.5" fill="none" stroke="#000" stroke-width="1.5"/>
</svg>
</body></html>
